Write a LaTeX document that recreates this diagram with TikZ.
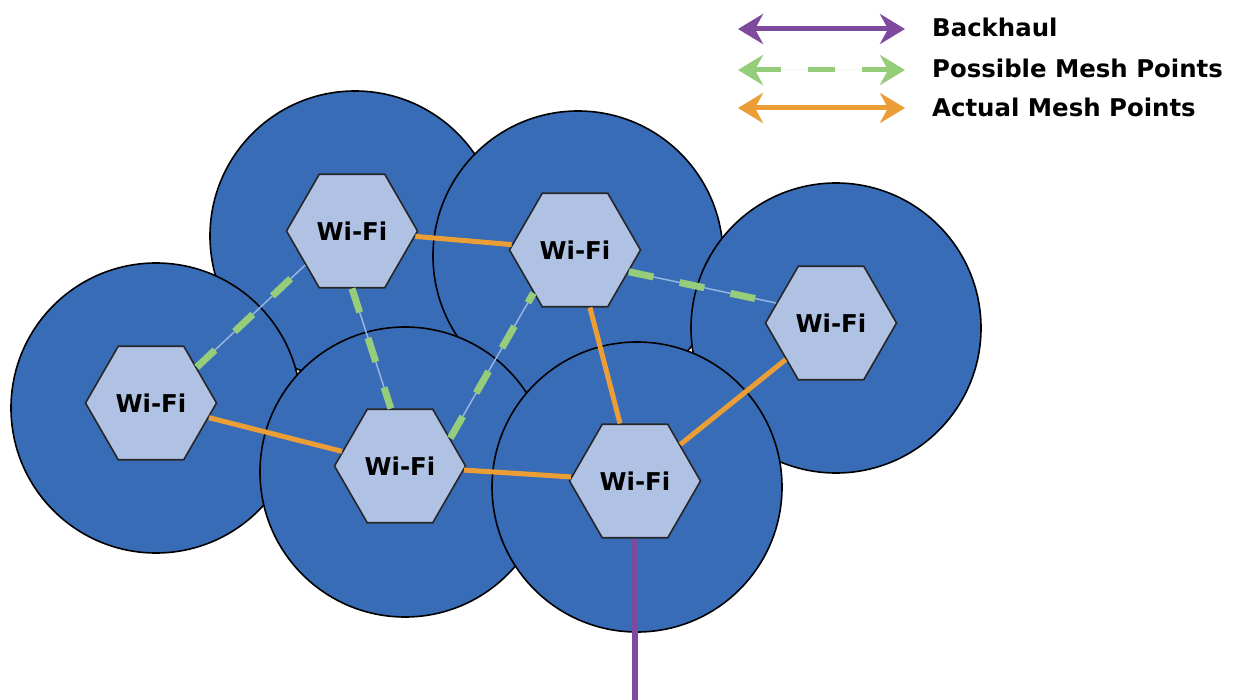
\documentclass[tikz,border=0pt]{standalone}
\usepackage{fontspec}
\setmainfont{DejaVu Sans}[BoldFont={DejaVu Sans Bold}]
\usetikzlibrary{shapes.geometric,arrows.meta}
\definecolor{cellblue}{RGB}{57,108,182}
\definecolor{hexfill}{RGB}{176,194,228}
\definecolor{meshorange}{RGB}{236,158,54}
\definecolor{meshgreen}{RGB}{150,205,122}
\definecolor{backpurple}{RGB}{125,74,157}
\definecolor{thinblue}{RGB}{150,180,225}
\begin{document}
\begin{tikzpicture}[x=1pt,y=-1pt,
  cell/.style={draw=black,line width=1.6pt,fill=cellblue},
  wifi/.style={regular polygon,regular polygon sides=6,minimum size=131pt,inner sep=0pt,
    draw=black!85,line width=1.6pt,fill=hexfill,font=\bfseries\fontsize{24.5}{30}\selectfont},
  actual/.style={draw=meshorange,line width=5pt},
  possible/.style={draw=meshgreen,line width=7pt,dash pattern=on 25pt off 27pt,
    preaction={draw=thinblue,line width=1.5pt,solid}},
  backhaul/.style={draw=backpurple,line width=6pt},
  legarrow/.style={line width=5pt,arrows={Stealth[length=25pt,width=30pt,inset=8pt]-Stealth[length=25pt,width=30pt,inset=8pt]}},
  legtext/.style={anchor=base west,inner sep=0pt,font=\bfseries\fontsize{24.4}{28}\selectfont}
]
\useasboundingbox (0,0) rectangle (1238,700);
\fill[white] (0,0) rectangle (1238,700);
% coverage circles
\draw[cell] (355,236) circle[radius=145pt];
\draw[cell] (156,408) circle[radius=145pt];
\draw[cell] (578,256) circle[radius=145pt];
\draw[cell] (836,328) circle[radius=145pt];
\draw[cell] (405,472) circle[radius=145pt];
\draw[cell] (637,487) circle[radius=145pt];
% access points
\node[wifi] (H1) at (151,403) {Wi-Fi};
\node[wifi] (H2) at (352,231) {Wi-Fi};
\node[wifi] (H3) at (575,250) {Wi-Fi};
\node[wifi] (H4) at (831,323) {Wi-Fi};
\node[wifi] (H5) at (400,466) {Wi-Fi};
\node[wifi] (H6) at (635,481) {Wi-Fi};
% possible mesh links
\draw[possible] (H1.38) -- (H2.216);
\draw[possible] (H2.270) -- (H5.99);
\draw[possible] (H5.29) -- (H3.226);
\draw[possible] (H3.-22) -- (H4.160);
% actual mesh links
\draw[actual] (H2) -- (H3);
\draw[actual] (H1) -- (H5);
\draw[actual] (H5) -- (H6);
\draw[actual] (H3) -- (H6);
\draw[actual] (H4) -- (H6);
% backhaul
\coordinate (bh) at (635,700);
\draw[backhaul] (H6) -- (bh);
% legend
\coordinate (lb1) at (738,29); \coordinate (lb2) at (905,29);
\coordinate (lp1) at (738,70); \coordinate (lp2) at (905,70);
\coordinate (la1) at (738,108); \coordinate (la2) at (905,108);
\draw[legarrow,draw=backpurple,fill=backpurple] (lb1) -- (lb2);
\draw[legarrow,draw=meshgreen,fill=meshgreen,dash pattern=on 27pt off 27pt] (lp1) -- (lp2);
\draw[legarrow,draw=meshorange,fill=meshorange] (la1) -- (la2);
\node[legtext] (tb) at (932,37) {Backhaul};
\node[legtext] (tp) at (932,78) {Possible Mesh Points};
\node[legtext] (ta) at (932,117) {Actual Mesh Points};
\end{tikzpicture}
\end{document}
